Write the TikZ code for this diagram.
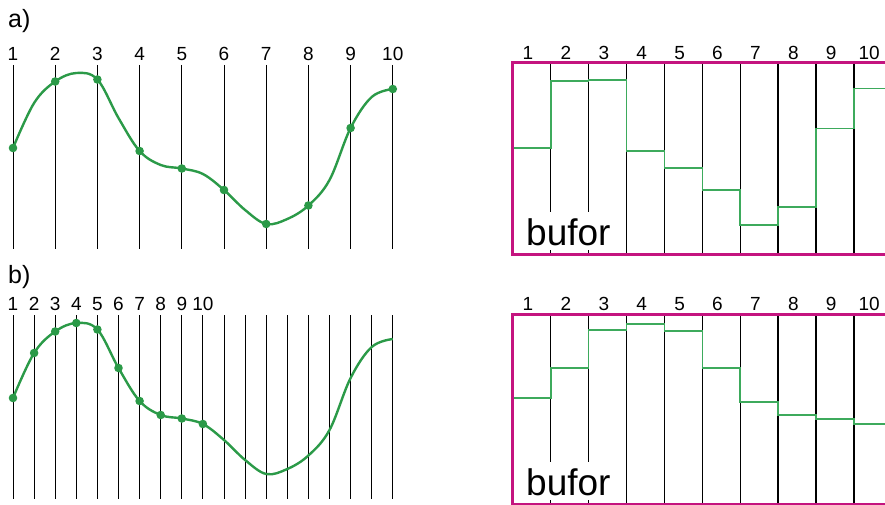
\documentclass[tikz,border=0pt]{standalone}
\usepackage{fontspec}
\setmainfont{Liberation Sans}
\begin{document}
\begin{tikzpicture}[x=1pt,y=-1pt,
  grid/.style={black,line width=0.9pt},
  cell/.style={black,line width=1.3pt},
  num/.style={anchor=base,inner sep=0pt,font=\fontsize{19}{19}\selectfont},
  panel/.style={anchor=base west,inner sep=0pt,font=\fontsize{25}{25}\selectfont},
  buf/.style={anchor=base west,fill=white,inner xsep=2pt,inner ysep=5pt,text height=28pt,text depth=0pt,font=\fontsize{37}{37}\selectfont}]
\definecolor{color1}{HTML}{2B9A48}
\definecolor{color2}{HTML}{C4147F}
\definecolor{color3}{HTML}{3DAA5C}
\clip (0,0) rectangle (885,505);
\node[panel] (pa) at (8,28) {a)};
\node[panel] (pb) at (8,283) {b)};
\draw[grid] (13.0,65) -- (13.0,249);
\draw[grid] (55.2,65) -- (55.2,249);
\draw[grid] (97.4,65) -- (97.4,249);
\draw[grid] (139.6,65) -- (139.6,249);
\draw[grid] (181.8,65) -- (181.8,249);
\draw[grid] (224.0,65) -- (224.0,249);
\draw[grid] (266.2,65) -- (266.2,249);
\draw[grid] (308.4,65) -- (308.4,249);
\draw[grid] (350.6,65) -- (350.6,249);
\draw[grid] (392.8,65) -- (392.8,249);
\node[num] (a1) at (13.0,60.5) {1};
\node[num] (a2) at (55.2,60.5) {2};
\node[num] (a3) at (97.4,60.5) {3};
\node[num] (a4) at (139.6,60.5) {4};
\node[num] (a5) at (181.8,60.5) {5};
\node[num] (a6) at (224.0,60.5) {6};
\node[num] (a7) at (266.2,60.5) {7};
\node[num] (a8) at (308.4,60.5) {8};
\node[num] (a9) at (350.6,60.5) {9};
\node[num] (a10) at (392.8,60.5) {10};
\draw[color1,line width=2.4pt] plot[smooth,tension=0.6] coordinates {(13.0,148) (34.1,103) (55.2,81.5) (76.3,73) (97.4,79.5) (118.5,118) (139.6,151) (160.7,165) (181.8,168.5) (202.9,174) (224.0,190) (245.1,210) (266.2,224) (287.3,219) (308.4,205.5) (329.5,180) (350.6,128) (371.7,97) (392.8,89)};
\fill[color1] (13.0,148) circle (4.3);
\fill[color1] (55.2,81.5) circle (4.3);
\fill[color1] (97.4,79.5) circle (4.3);
\fill[color1] (139.6,151) circle (4.3);
\fill[color1] (181.8,168.5) circle (4.3);
\fill[color1] (224.0,190) circle (4.3);
\fill[color1] (266.2,224) circle (4.3);
\fill[color1] (308.4,205.5) circle (4.3);
\fill[color1] (350.6,128) circle (4.3);
\fill[color1] (392.8,89) circle (4.3);
\draw[grid] (13.0,315) -- (13.0,499);
\draw[grid] (34.1,315) -- (34.1,499);
\draw[grid] (55.2,315) -- (55.2,499);
\draw[grid] (76.3,315) -- (76.3,499);
\draw[grid] (97.4,315) -- (97.4,499);
\draw[grid] (118.5,315) -- (118.5,499);
\draw[grid] (139.6,315) -- (139.6,499);
\draw[grid] (160.7,315) -- (160.7,499);
\draw[grid] (181.8,315) -- (181.8,499);
\draw[grid] (202.9,315) -- (202.9,499);
\draw[grid] (224.0,315) -- (224.0,499);
\draw[grid] (245.1,315) -- (245.1,499);
\draw[grid] (266.2,315) -- (266.2,499);
\draw[grid] (287.3,315) -- (287.3,499);
\draw[grid] (308.4,315) -- (308.4,499);
\draw[grid] (329.5,315) -- (329.5,499);
\draw[grid] (350.6,315) -- (350.6,499);
\draw[grid] (371.7,315) -- (371.7,499);
\draw[grid] (392.8,315) -- (392.8,499);
\node[num] (b1) at (13.0,310) {1};
\node[num] (b2) at (34.1,310) {2};
\node[num] (b3) at (55.2,310) {3};
\node[num] (b4) at (76.3,310) {4};
\node[num] (b5) at (97.4,310) {5};
\node[num] (b6) at (118.5,310) {6};
\node[num] (b7) at (139.6,310) {7};
\node[num] (b8) at (160.7,310) {8};
\node[num] (b9) at (181.8,310) {9};
\node[num] (b10) at (202.9,310) {10};
\draw[color1,line width=2.4pt] plot[smooth,tension=0.6] coordinates {(13.0,398) (34.1,353) (55.2,331.5) (76.3,323) (97.4,329.5) (118.5,368) (139.6,401) (160.7,415) (181.8,418.5) (202.9,424) (224.0,440) (245.1,460) (266.2,474) (287.3,469) (308.4,455.5) (329.5,430) (350.6,378) (371.7,347) (392.8,339)};
\fill[color1] (13.0,398) circle (4.3);
\fill[color1] (34.1,353) circle (4.3);
\fill[color1] (55.2,331.5) circle (4.3);
\fill[color1] (76.3,323) circle (4.3);
\fill[color1] (97.4,329.5) circle (4.3);
\fill[color1] (118.5,368) circle (4.3);
\fill[color1] (139.6,401) circle (4.3);
\fill[color1] (160.7,415) circle (4.3);
\fill[color1] (181.8,418.5) circle (4.3);
\fill[color1] (202.9,424) circle (4.3);
\draw[cell] (550.7,63) -- (550.7,254);
\draw[cell] (588.6,63) -- (588.6,254);
\draw[cell] (626.5,63) -- (626.5,254);
\draw[cell] (664.4,63) -- (664.4,254);
\draw[cell] (702.3,63) -- (702.3,254);
\draw[cell] (740.2,63) -- (740.2,254);
\draw[cell] (778.1,63) -- (778.1,254);
\draw[cell] (816.0,63) -- (816.0,254);
\draw[cell] (853.9,63) -- (853.9,254);
\draw[color3,line width=1.6pt] (512.8,148.3) -| (550.7,81) -| (588.6,80) -| (626.5,151) -| (664.4,168) -| (702.3,190) -| (740.2,224.7) -| (778.1,206.7) -| (816.0,128.7) -| (853.9,88.7) -- (895,88.7);
\node[buf] (bufa) at (524,245) {bufor};
\node[num] (c1) at (528.0,60) {1};
\node[num] (c2) at (565.9,60) {2};
\node[num] (c3) at (603.8,60) {3};
\node[num] (c4) at (641.7,60) {4};
\node[num] (c5) at (679.6,60) {5};
\node[num] (c6) at (717.5,60) {6};
\node[num] (c7) at (755.4,60) {7};
\node[num] (c8) at (793.3,60) {8};
\node[num] (c9) at (831.2,60) {9};
\node[num] (c10) at (869.1,60) {10};
\draw[color2,line width=3pt] (512.8,63) rectangle (895,254);
\draw[cell] (550.7,314) -- (550.7,504);
\draw[cell] (588.6,314) -- (588.6,504);
\draw[cell] (626.5,314) -- (626.5,504);
\draw[cell] (664.4,314) -- (664.4,504);
\draw[cell] (702.3,314) -- (702.3,504);
\draw[cell] (740.2,314) -- (740.2,504);
\draw[cell] (778.1,314) -- (778.1,504);
\draw[cell] (816.0,314) -- (816.0,504);
\draw[cell] (853.9,314) -- (853.9,504);
\draw[color3,line width=1.6pt] (512.8,398) -| (550.7,368) -| (588.6,330) -| (626.5,324) -| (664.4,331) -| (702.3,368) -| (740.2,402) -| (778.1,415) -| (816.0,419) -| (853.9,424) -- (895,424);
\node[buf] (bufb) at (524,495) {bufor};
\node[num] (d1) at (528.0,310) {1};
\node[num] (d2) at (565.9,310) {2};
\node[num] (d3) at (603.8,310) {3};
\node[num] (d4) at (641.7,310) {4};
\node[num] (d5) at (679.6,310) {5};
\node[num] (d6) at (717.5,310) {6};
\node[num] (d7) at (755.4,310) {7};
\node[num] (d8) at (793.3,310) {8};
\node[num] (d9) at (831.2,310) {9};
\node[num] (d10) at (869.1,310) {10};
\draw[color2,line width=3pt] (512.8,314) rectangle (895,504);
\end{tikzpicture}
\end{document}
